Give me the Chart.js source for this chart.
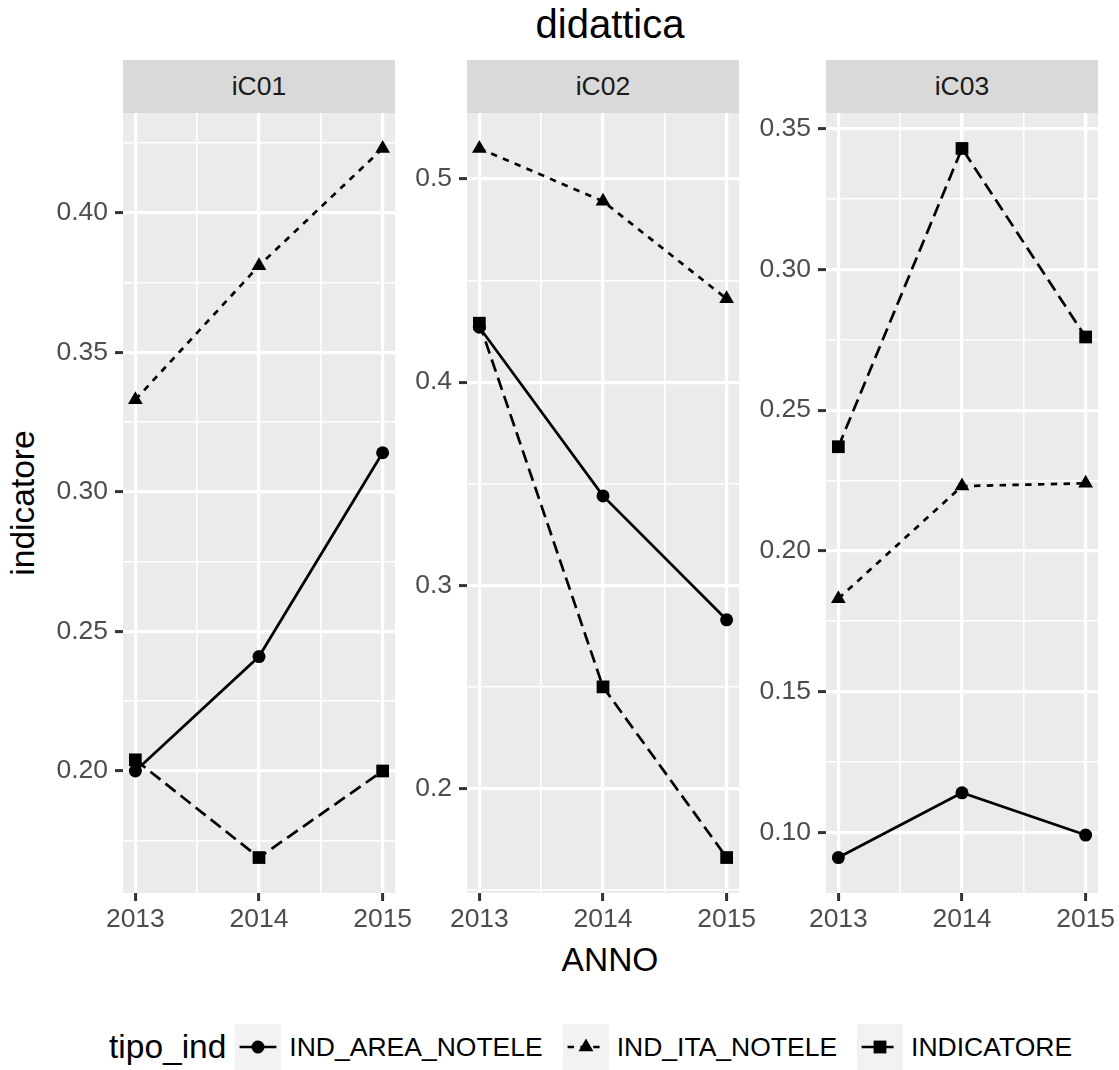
<!DOCTYPE html>
<html>
<head>
<meta charset="utf-8">
<script src="https://cdn.jsdelivr.net/npm/chart.js@4.4.1/dist/chart.umd.min.js"></script>
<style>
  body { margin: 0; background: #fff; width: 1119px; height: 1070px; position: relative; overflow: hidden;
         font-family: "Liberation Sans", Arial, sans-serif; }
  .t { position: absolute; transform: translate(-50%, -50%); line-height: 1; white-space: nowrap; }
  canvas { position: absolute; top: 60px; }
  .strip { position: absolute; top: 60px; height: 53px; width: 272px; background: #d9d9d9; color: #1a1a1a;
           font-size: 26.5px; display: flex; align-items: center; justify-content: center; }
  #legend { position: absolute; left: 109px; top: 1024px; height: 46px; display: flex; align-items: center; }
  #legend .title { font-size: 33.5px; margin-right: 9px; }
  #legend .lab { font-size: 26.5px; margin: 0 20px 0 8px; }
  #legend svg { display: block; }
</style>
</head>
<body>
<div class="t" style="left:610px;top:24px;font-size:40px;">didattica</div>
<div class="t" style="left:610px;top:960px;font-size:33.5px;">ANNO</div>
<div class="t" style="left:23px;top:503px;font-size:33.5px;transform:translate(-50%,-50%) rotate(-90deg);">indicatore</div>

<div class="strip" style="left:123px;">iC01</div>
<div class="strip" style="left:467px;">iC02</div>
<div class="strip" style="left:826px;">iC03</div>

<canvas id="c1" width="412" height="883" style="left:13px"></canvas>
<canvas id="c2" width="412" height="883" style="left:357px"></canvas>
<canvas id="c3" width="412" height="883" style="left:716px"></canvas>

<div id="legend"></div>

<script>
// years on the x axis
const years = [2013, 2014, 2015];
const seriesNames = ['IND_AREA_NOTELE', 'IND_ITA_NOTELE', 'INDICATORE'];

// iC01
const areaIC01 = [0.200, 0.241, 0.314];
const itaIC01  = [0.333, 0.381, 0.423];
const indIC01  = [0.204, 0.169, 0.200];
// iC02
const areaIC02 = [0.427, 0.344, 0.283];
const itaIC02  = [0.515, 0.489, 0.441];
const indIC02  = [0.429, 0.250, 0.166];
// iC03
const areaIC03 = [0.091, 0.114, 0.099];
const itaIC03  = [0.183, 0.223, 0.224];
const indIC03  = [0.237, 0.343, 0.276];

// y tick values and labels per panel
const yTicksIC01 = [0.20, 0.25, 0.30, 0.35, 0.40];
const yLabelsIC01 = ['0.20', '0.25', '0.30', '0.35', '0.40'];
const yTicksIC02 = [0.2, 0.3, 0.4, 0.5];
const yLabelsIC02 = ['0.2', '0.3', '0.4', '0.5'];
const yTicksIC03 = [0.10, 0.15, 0.20, 0.25, 0.30, 0.35];
const yLabelsIC03 = ['0.10', '0.15', '0.20', '0.25', '0.30', '0.35'];

Chart.defaults.font.family = '"Liberation Sans", Arial, sans-serif';

const LW = 2.7;
const styles = [
  { dash: [], point: 'circle', r: 6.5 },
  { dash: [6.4, 6.4], point: 'triangle', r: 8.5 },
  { dash: [12.8, 6.4], point: 'rect', r: 9 }
];

const panelBg = {
  id: 'panelBg',
  beforeDraw(chart) {
    const a = chart.chartArea, ctx = chart.ctx;
    ctx.save();
    ctx.fillStyle = '#ebebeb';
    ctx.fillRect(a.left, a.top, a.right - a.left, a.bottom - a.top);
    ctx.restore();
  }
};

function isIn(list, v) {
  return list.some(x => Math.abs(x - v) < 1e-9);
}

function makePanel(id, series, majors, labels) {
  const all = series.flat();
  const lo = Math.min(...all), hi = Math.max(...all);
  const pad = (hi - lo) * 0.05;
  const ymin = lo - pad, ymax = hi + pad;
  const step = majors[1] - majors[0];
  const minors = [];
  for (let i = -1; i < majors.length; i++) {
    const v = majors[0] + step * (i + 0.5);
    if (v >= ymin && v <= ymax) minors.push(v);
  }
  const yAll = majors.concat(minors).sort((a, b) => a - b);
  const xMinors = [2013.5, 2014.5];
  const xAll = years.concat(xMinors).sort((a, b) => a - b);

  const datasets = series.map((vals, i) => ({
    label: seriesNames[i],
    data: years.map((y, j) => ({ x: y, y: vals[j] })),
    borderColor: '#000',
    backgroundColor: '#000',
    borderWidth: LW,
    borderDash: styles[i].dash,
    pointStyle: styles[i].point,
    pointRadius: styles[i].r,
    pointBorderWidth: 0,
    pointBackgroundColor: '#000',
    showLine: true,
    tension: 0
  }));

  new Chart(document.getElementById(id), {
    type: 'scatter',
    data: { datasets: datasets },
    plugins: [panelBg],
    options: {
      responsive: false,
      animation: false,
      devicePixelRatio: 1,
      layout: { padding: { top: 53, right: 30, left: 0, bottom: 0 } },
      plugins: { legend: { display: false }, tooltip: { enabled: false } },
      scales: {
        x: {
          type: 'linear',
          min: 2013 - 0.1,
          max: 2015 + 0.1,
          afterBuildTicks: s => { s.ticks = xAll.map(v => ({ value: v })); },
          afterFit: s => { s.height = 50; },
          border: { display: false },
          grid: {
            color: '#fff',
            lineWidth: c => isIn(years, c.tick.value) ? 3.2 : 1.6,
            tickColor: c => isIn(years, c.tick.value) ? '#333333' : 'rgba(0,0,0,0)',
            tickLength: 8,
            tickWidth: 3
          },
          ticks: {
            autoSkip: false,
            maxRotation: 0,
            padding: 3,
            color: '#4d4d4d',
            font: { size: 26.5 },
            callback: v => isIn(years, v) ? String(Math.round(v)) : ''
          }
        },
        y: {
          type: 'linear',
          min: ymin,
          max: ymax,
          afterBuildTicks: s => { s.ticks = yAll.map(v => ({ value: v })); },
          afterFit: s => { s.width = 110; },
          border: { display: false },
          grid: {
            color: '#fff',
            lineWidth: c => isIn(majors, c.tick.value) ? 3.2 : 1.6,
            tickColor: c => isIn(majors, c.tick.value) ? '#333333' : 'rgba(0,0,0,0)',
            tickLength: 8,
            tickWidth: 3
          },
          ticks: {
            autoSkip: false,
            padding: 7,
            color: '#4d4d4d',
            font: { size: 26.5 },
            callback: v => {
              const k = majors.findIndex(x => Math.abs(x - v) < 1e-9);
              return k >= 0 ? labels[k] : '';
            }
          }
        }
      }
    }
  });
}

makePanel('c1', [areaIC01, itaIC01, indIC01], yTicksIC01, yLabelsIC01);
makePanel('c2', [areaIC02, itaIC02, indIC02], yTicksIC02, yLabelsIC02);
makePanel('c3', [areaIC03, itaIC03, indIC03], yTicksIC03, yLabelsIC03);

// legend (ggplot style keys)
function keySvg(i) {
  const s = 46, m = s / 2;
  const st = styles[i];
  let mark;
  if (st.point === 'circle') mark = `<circle cx="${m}" cy="${m}" r="6.5" fill="#000"/>`;
  else if (st.point === 'triangle') mark = `<polygon points="${m},${m - 8.5} ${m + 7.4},${m + 4.3} ${m - 7.4},${m + 4.3}" fill="#000"/>`;
  else mark = `<rect x="${m - 6.4}" y="${m - 6.4}" width="12.8" height="12.8" fill="#000"/>`;
  return `<svg width="${s}" height="${s}"><rect width="${s}" height="${s}" fill="#f2f2f2"/>` +
    `<line x1="${s * 0.1}" y1="${m}" x2="${s * 0.9}" y2="${m}" stroke="#000" stroke-width="${LW}" stroke-dasharray="${st.dash.join(' ') || 'none'}"/>` +
    mark + `</svg>`;
}
let html = '<span class="title">tipo_ind</span>';
seriesNames.forEach((n, i) => { html += keySvg(i) + `<span class="lab">${n}</span>`; });
document.getElementById('legend').innerHTML = html;
</script>
</body>
</html>
